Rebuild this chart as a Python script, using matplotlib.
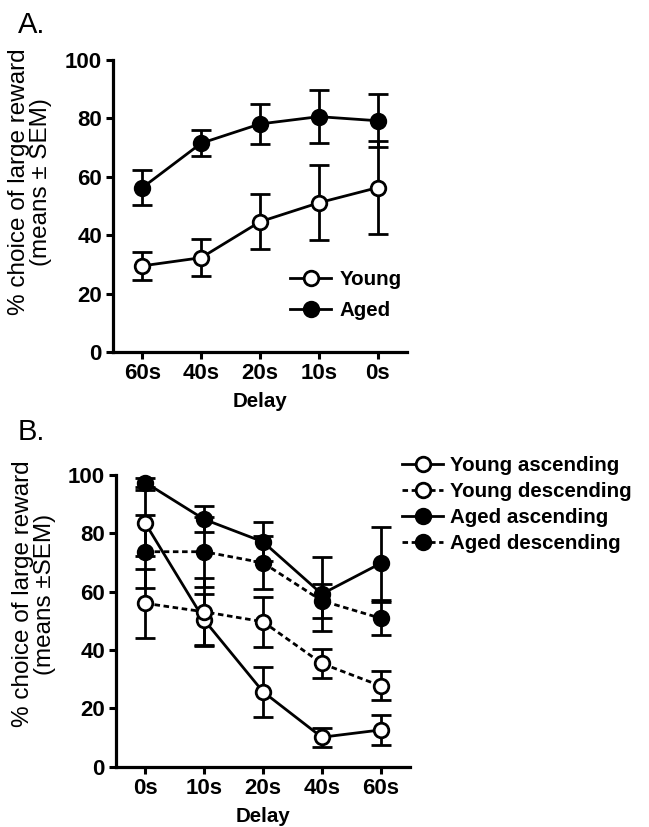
import matplotlib
matplotlib.use('Agg')
import matplotlib.pyplot as plt
from matplotlib.lines import Line2D

plt.rcParams['font.family'] = ['Liberation Sans', 'DejaVu Sans']

# Panel A: delay order 60s -> 0s
delays_a = ['60s', '40s', '20s', '10s', '0s']
young_a = [29.5, 32.3, 44.6, 51.1, 56.3]
young_a_err = [4.7, 6.4, 9.4, 12.8, 16.0]
aged_a = [56.3, 71.5, 78.1, 80.6, 79.2]
aged_a_err = [6.0, 4.5, 7.0, 9.0, 9.0]

# Panel B: delay order 0s -> 60s
delays_b = ['0s', '10s', '20s', '40s', '60s']
young_asc = [83.4, 50.3, 25.7, 10.1, 12.6]
young_asc_err = [11.3, 9.0, 8.6, 3.3, 5.0]
young_desc = [56.0, 53.1, 49.7, 35.4, 27.7]
young_desc_err = [11.8, 11.5, 8.6, 5.0, 5.0]
aged_asc = [97.4, 84.8, 77.1, 59.2, 69.7]
aged_asc_err = [1.5, 4.5, 6.7, 12.8, 12.4]
aged_desc = [73.7, 73.7, 69.9, 56.9, 50.9]
aged_desc_err = [12.5, 12.0, 9.1, 5.9, 5.7]

W, H = 649, 827
fig = plt.figure(figsize=(W / 100, H / 100), dpi=100)

tick_fs = 16
lab_fs = 14.8
ylab_fs = 17.5


def style_axes(ax, labels):
    ax.set_xlim(-0.5, 4.5)
    ax.set_ylim(0, 100)
    ax.set_xticks(range(len(labels)))
    ax.set_xticklabels(labels)
    ax.set_yticks([0, 20, 40, 60, 80, 100])
    for s in ['top', 'right']:
        ax.spines[s].set_visible(False)
    for s in ['left', 'bottom']:
        ax.spines[s].set_linewidth(2.3)
    ax.tick_params(direction='out', length=5, width=2.2, pad=3,
                   labelsize=tick_fs)
    for t in ax.get_xticklabels() + ax.get_yticklabels():
        t.set_fontweight('bold')
    ax.set_xlabel('Delay', fontsize=lab_fs, fontweight='bold', labelpad=6)


def series(ax, y, err, filled, ls):
    ax.errorbar(range(len(y)), y, yerr=err, color='black', lw=2, ls=ls,
                marker='o', ms=10.5, mew=2, mec='black',
                mfc='black' if filled else 'white',
                capsize=7, capthick=2, elinewidth=2, clip_on=False)


def handle(filled, ls):
    return Line2D([], [], color='black', lw=2, ls=ls, marker='o', ms=10.5,
                  mew=2, mec='black', mfc='black' if filled else 'white')


dash = (0, (2, 1.3))

# ---- Panel A ----
axA = fig.add_axes([113 / W, 1 - 352 / H, 294 / W, 292 / H])
series(axA, young_a, young_a_err, False, '-')
series(axA, aged_a, aged_a_err, True, '-')
style_axes(axA, delays_a)
axA.legend([handle(False, '-'), handle(True, '-')], ['Young', 'Aged'],
           loc='upper left', bbox_to_anchor=(290 / W, 1 - 270 / H),
           bbox_transform=fig.transFigure, frameon=False, borderpad=0,
           borderaxespad=0, handlelength=2.0, handletextpad=0.4,
           labelspacing=0.6, prop={'weight': 'bold', 'size': lab_fs})
fig.text(30 / W, 1 - 182 / H, '% choice of large reward\n(means \u00b1 SEM)',
         rotation=90, ha='center', va='center', ma='center', fontsize=ylab_fs,
         linespacing=1.05)
fig.text(18 / W, 1 - 33 / H, 'A.', fontsize=21, ha='left', va='baseline')

# ---- Panel B ----
axB = fig.add_axes([116 / W, 1 - 766.7 / H, 294 / W, 291.7 / H])
series(axB, young_asc, young_asc_err, False, '-')
series(axB, young_desc, young_desc_err, False, dash)
series(axB, aged_desc, aged_desc_err, True, dash)
series(axB, aged_asc, aged_asc_err, True, '-')
style_axes(axB, delays_b)
fig.legend([handle(False, '-'), handle(False, dash), handle(True, '-'), handle(True, dash)],
           ['Young ascending', 'Young descending', 'Aged ascending', 'Aged descending'],
           loc='upper left', bbox_to_anchor=(402 / W, 1 - 456 / H),
           frameon=False, borderpad=0, borderaxespad=0, handlelength=2.0,
           handletextpad=0.35, labelspacing=0.34,
           prop={'weight': 'bold', 'size': lab_fs})
fig.text(34 / W, 1 - 594 / H, '% choice of large reward\n(means \u00b1SEM)',
         rotation=90, ha='center', va='center', ma='center', fontsize=ylab_fs,
         linespacing=1.05)
fig.text(18 / W, 1 - 440 / H, 'B.', fontsize=21, ha='left', va='baseline')

fig.savefig('out.png', dpi=100)
